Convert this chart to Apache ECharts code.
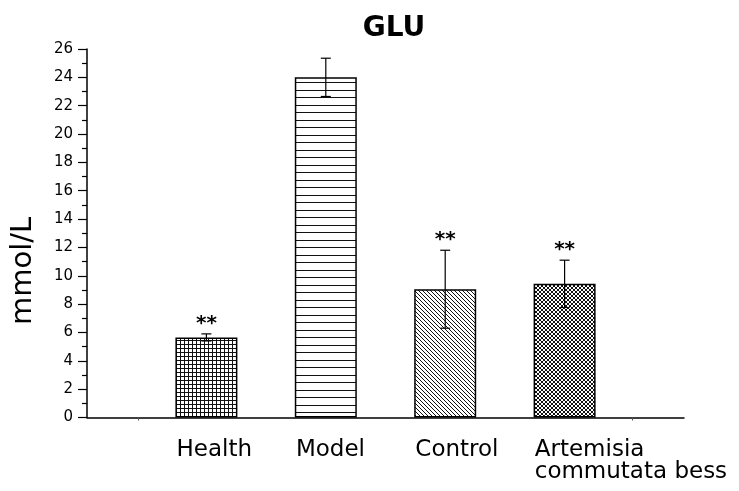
<!DOCTYPE html>
<html>
<head>
<meta charset="utf-8">
<script src="https://cdn.jsdelivr.net/npm/echarts@6/dist/echarts.min.js"></script>
<style>
  html, body { margin: 0; padding: 0; background: #fff; }
  #chart { width: 739px; height: 491px; }
</style>
</head>
<body>
<div id="chart"></div>
<script>
// Blood glucose (GLU) by group, mean ± error
const categories = ['Health', 'Model', 'Control', 'Artemisia\ncommutata bess'];
const positions = [1, 2, 3, 4];
const means = [5.65, 24.0, 9.05, 9.43];
const errors = [0.25, 1.35, 2.75, 1.67];
const significance = ['**', '', '**', '**'];
const labelPositions = [0.75, 1.75, 2.75, 3.75];
const yTicks = { min: 0, max: 26, interval: 2 };

// Hatch fills for the bars
function makeTile(w, h, paint) {
  const c = document.createElement('canvas');
  c.width = w; c.height = h;
  const g = c.getContext('2d');
  g.fillStyle = '#fff';
  g.fillRect(0, 0, w, h);
  g.fillStyle = '#111';
  paint(g);
  return c;
}
const tiles = [
  // square grid
  makeTile(4, 4, g => { g.fillRect(0, 0, 4, 1); g.fillRect(0, 0, 1, 4); }),
  // horizontal lines
  makeTile(4, 15, g => { g.fillRect(0, 0, 4, 1); g.fillRect(0, 7, 4, 1); }),
  // descending diagonals
  makeTile(4, 4, g => { for (let i = 0; i < 4; i++) g.fillRect(i, i, 1, 1); }),
  // diagonal cross-hatch
  makeTile(4, 4, g => { for (let i = 0; i < 4; i++) { g.fillRect(i, i, 1, 1); g.fillRect(3 - i, i, 1, 1); } })
];

const chart = echarts.init(document.getElementById('chart'), null, { renderer: 'canvas' });

const barData = positions.map((p, i) => ({
  value: [p, means[i]],
  itemStyle: { color: { image: tiles[i], repeat: 'repeat' } }
}));
const errData = positions.map((p, i) => [p, means[i], errors[i], i]);

const font = 'DejaVu Sans';

chart.setOption({
  animation: false,
  backgroundColor: '#fff',
  title: {
    text: 'GLU',
    left: 389,
    top: 10,
    textAlign: 'center',
    textStyle: { fontFamily: font, fontWeight: 'bold', fontSize: 28, color: '#000' }
  },
  grid: { left: 87, right: 55, top: 49, bottom: 73.5 },
  xAxis: {
    type: 'value',
    min: 0,
    max: 5,
    splitLine: { show: false },
    axisLine: { show: true, onZero: false, lineStyle: { color: '#000', width: 1.5 } },
    axisTick: { show: true, customValues: [0.43, 4.57], length: 3, lineStyle: { color: '#555', width: 1 } },
    axisLabel: {
      customValues: labelPositions,
      align: 'left',
      margin: 22,
      lineHeight: 22,
      fontFamily: font,
      fontSize: 23,
      color: '#000',
      formatter: v => {
        const k = labelPositions.findIndex(p => Math.abs(p - v) < 1e-6);
        return k >= 0 ? categories[k] : '';
      }
    }
  },
  yAxis: {
    type: 'value',
    min: yTicks.min,
    max: yTicks.max,
    interval: yTicks.interval,
    splitLine: { show: false },
    axisLine: { show: true, lineStyle: { color: '#000', width: 1.5 } },
    axisTick: { show: true, length: 9, lineStyle: { color: '#000', width: 1.2 } },
    minorTick: { show: true, splitNumber: 2, length: 5, lineStyle: { color: '#000', width: 1.2 } },
    axisLabel: { margin: 14, fontFamily: font, fontSize: 15, color: '#000' }
  },
  graphic: [{
    type: 'text',
    x: 23,
    y: 271,
    rotation: Math.PI / 2,
    style: {
      text: 'mmol/L',
      fontFamily: font,
      fontSize: 29,
      fill: '#000',
      align: 'center',
      verticalAlign: 'middle'
    }
  }],
  series: [
    {
      type: 'bar',
      data: barData,
      barWidth: 62,
      itemStyle: { borderColor: '#000', borderWidth: 1.5 },
      z: 2
    },
    {
      type: 'custom',
      data: errData,
      z: 3,
      renderItem: (params, api) => {
        const x = api.value(0), m = api.value(1), e = api.value(2), k = api.value(3);
        const top = api.coord([x, m + e]);
        const bot = api.coord([x, m - e]);
        const half = 5;
        const stroke = { stroke: '#000', lineWidth: 1.2 };
        const children = [
          { type: 'line', shape: { x1: top[0], y1: top[1], x2: bot[0], y2: bot[1] }, style: stroke },
          { type: 'line', shape: { x1: top[0] - half, y1: top[1], x2: top[0] + half, y2: top[1] }, style: stroke },
          { type: 'line', shape: { x1: bot[0] - half, y1: bot[1], x2: bot[0] + half, y2: bot[1] }, style: stroke }
        ];
        if (significance[k]) {
          children.push({
            type: 'text',
            x: top[0],
            y: top[1] - 10,
            style: {
              text: significance[k],
              fontFamily: font,
              fontWeight: 'bold',
              fontSize: 20,
              fill: '#000',
              align: 'center',
              verticalAlign: 'middle'
            }
          });
        }
        return { type: 'group', children };
      }
    }
  ]
});
</script>
</body>
</html>
